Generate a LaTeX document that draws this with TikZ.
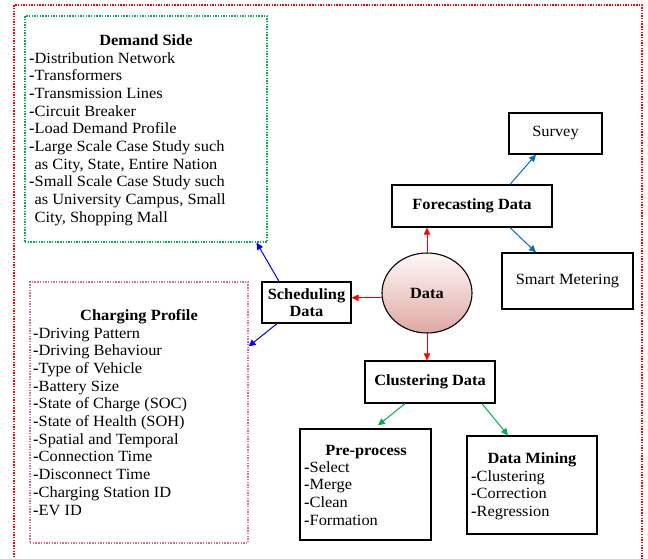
\documentclass[tikz,border=0pt]{standalone}
\usepackage{fontspec}
\setmainfont{Liberation Serif}[FakeStretch=1.05]
\usetikzlibrary{shapes.geometric,arrows.meta,calc}
\definecolor{redc}{HTML}{FF0000}
\definecolor{bluec}{HTML}{0070C0}
\definecolor{pblue}{HTML}{0000FF}
\definecolor{greenc}{HTML}{00B050}
\definecolor{pinkc}{HTML}{D0709E}
\newcommand{\fs}{\fontsize{15.6}{17.7}\selectfont}
\begin{document}
\begin{tikzpicture}[x=1pt,y=-1pt,
  box/.style={draw=black,line width=1.3pt,inner sep=0pt},
  dotbox/.style={line width=1.1pt,dash pattern=on 1.4pt off 1.3pt,inner sep=0pt},
  txt/.style={font=\fs,inner sep=0pt,align=left},
  ttl/.style={font=\fs\bfseries,inner sep=0pt},
  arr/.style={line width=1pt,-{Triangle[length=7pt,width=6.5pt]}}]
\useasboundingbox (0,0) rectangle (648,558);
% outer frame
\draw[redc,dotbox] (14,560) -- (14,5) -- (642,5) -- (642,560);
% boxes
\node[dotbox,draw=greenc,minimum width=242,minimum height=226] (demand) at (146,129) {};
\node[dotbox,draw=pinkc,minimum width=218,minimum height=261] (charging) at (139,412.5) {};
\node[box,minimum width=89,minimum height=41,align=center,font=\fs\bfseries] (sched) at (306.5,302.5) {Scheduling\\[-1pt]Data};
\node[draw=black,line width=1.1pt,ellipse,minimum width=90,minimum height=80,top color=red!3,bottom color={rgb,255:red,222;green,168;blue,163},inner sep=0pt,font=\fs\bfseries] (data) at (427,293) {Data};
\node[box,minimum width=160,minimum height=42,font=\fs\bfseries] (forecast) at (472,206) {Forecasting Data};
\node[box,minimum width=93,minimum height=41,font=\fs] (survey) at (555.5,133.5) {Survey};
\node[box,minimum width=131,minimum height=56,font=\fs] (smart) at (567.5,281) {Smart Metering};
\node[box,minimum width=130,minimum height=42,font=\fs\bfseries] (cluster) at (430,382) {Clustering Data};
\node[box,minimum width=131,minimum height=111] (pre) at (365.5,484.5) {};
\node[box,minimum width=130,minimum height=98] (mining) at (532,485) {};
% texts (anchor base = baseline of last line)
\node[ttl,anchor=base] (demandttl) at (146,45) {Demand Side};
\node[txt,anchor=base west] (demandtxt) at (29,222.3) {\textbf{-}Distribution Network\\
\textbf{-}Transformers\\
\textbf{-}Transmission Lines\\
\textbf{-}Circuit Breaker\\
\textbf{-}Load Demand Profile\\
\textbf{-}Large Scale Case Study such\\
\phantom{-}as City, State, Entire Nation\\
\textbf{-}Small Scale Case Study such\\
\phantom{-}as University Campus, Small\\
\phantom{-}City, Shopping Mall};
\node[ttl,anchor=base] (chargettl) at (139,320) {Charging Profile};
\node[txt,anchor=base west] (chargetxt) at (33,515) {\textbf{-}Driving Pattern\\
\textbf{-}Driving Behaviour\\
\textbf{-}Type of Vehicle\\
\textbf{-}Battery Size\\
\textbf{-}State of Charge (SOC)\\
\textbf{-}State of Health (SOH)\\
\textbf{-}Spatial and Temporal\\
\textbf{-}Connection Time\\
\textbf{-}Disconnect Time\\
\textbf{-}Charging Station ID\\
\textbf{-}EV ID};
\node[ttl,anchor=base] (prettl) at (366,455) {Pre-process};
\node[txt,anchor=base west] (pretxt) at (304,525.1) {\textbf{-}Select\\
\textbf{-}Merge\\
\textbf{-}Clean\\
\textbf{-}Formation};
\node[ttl,anchor=base] (miningttl) at (532,463.5) {Data Mining};
\node[txt,anchor=base west] (miningtxt) at (471,516.4) {\textbf{-}Clustering\\
\textbf{-}Correction\\
\textbf{-}Regression};
% connectors
\draw[arr,redc] (data.north) -- (data.north |- forecast.south);
\draw[arr,redc] (data.186) -- (sched.east |- data.186);
\draw[arr,redc] (data.south) -- (data.south |- cluster.north);
\draw[arr,bluec] ([xshift=38pt]forecast.north) -- ([xshift=-19.5pt]survey.south);
\draw[arr,bluec] ([xshift=38pt]forecast.south) -- ([xshift=-31.5pt]smart.north);
\draw[arr,pblue] ([xshift=-27.5pt]sched.north) -- ([xshift=-11pt]demand.south east);
\draw[arr,pblue] ([xshift=-29.5pt]sched.south) -- ([yshift=-65pt]charging.north east);
\draw[arr,greenc] ([xshift=-25pt]cluster.south) -- ([xshift=12.5pt,yshift=3pt]pre.north);
\draw[arr,greenc] ([xshift=52pt]cluster.south) -- ([xshift=-24pt]mining.north);
\end{tikzpicture}
\end{document}
